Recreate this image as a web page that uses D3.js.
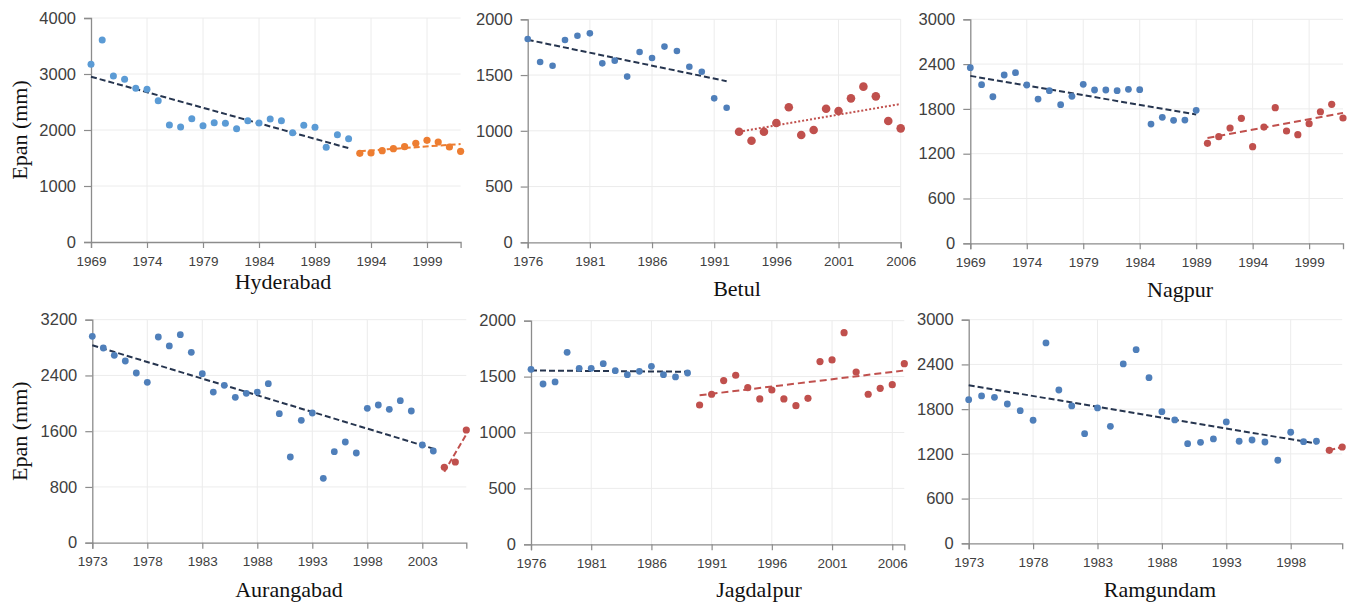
<!DOCTYPE html>
<html><head><meta charset="utf-8">
<script src="https://cdn.jsdelivr.net/npm/d3@7"></script>
<style>body{margin:0;background:#fff}svg{display:block}</style>
</head><body><svg id="c" width="1351" height="608"></svg>
<script>
// ---- data (Epan, mm) ----
const stations = ["Hyderabad","Betul","Nagpur","Aurangabad","Jagdalpur","Ramgundam"];

const hydYears1 = [1969,1992], hydYears2 = [1993,2002];
const hydPeriod1 = [3173,3607,2964,2905,2744,2726,2524,2089,2054,2202,2077,2131,2119,2024,2167,2125,2196,2167,1952,2083,2048,1690,1917,1845];
const hydPeriod2 = [1583,1589,1631,1667,1702,1762,1815,1786,1696,1620];

const betYears1 = [1976,1992], betYears2 = [1993,2006];
const betPeriod1 = [1823,1617,1584,1815,1853,1874,1605,1629,1486,1707,1653,1755,1716,1575,1530,1291,1207];
const betPeriod2 = [992,911,992,1070,1211,962,1007,1198,1178,1291,1396,1309,1088,1022];

const nagYears1 = [1969,1989], nagYears2 = [1990,2002];
const nagPeriod1 = [2352,2124,1963,2254,2285,2120,1932,2044,1856,1968,2129,2053,2053,2044,2062,2057,1597,1687,1647,1651,1781];
const nagPeriod2 = [1339,1428,1544,1674,1294,1557,1816,1504,1455,1602,1762,1861,1678];

const aurYears1 = [1973,2004], aurYears2 = [2005,2007];
const aurPeriod1 = [2962,2794,2689,2607,2435,2302,2952,2823,2985,2732,2425,2162,2259,2086,2144,2162,2282,1851,1230,1756,1861,924,1306,1445,1287,1928,1976,1914,2038,1890,1402,1316];
const aurPeriod2 = [1082,1158,1617];

const jagYears1 = [1976,1989], jagYears2 = [1990,2007];
const jagPeriod1 = [1565,1434,1452,1717,1574,1574,1616,1553,1517,1547,1592,1517,1497,1532];
const jagPeriod2 = [1246,1342,1464,1512,1401,1300,1380,1300,1240,1306,1634,1649,1893,1541,1342,1395,1428,1616];

const ramYears1 = [1973,2000], ramYears2 = [2001,2002];
const ramPeriod1 = [1927,1977,1959,1869,1780,1651,2688,2057,1843,1471,1816,1570,2406,2598,2222,1766,1655,1337,1355,1400,1628,1369,1386,1359,1114,1490,1364,1369];
const ramPeriod2 = [1248,1292];

const xTicks = {
  Hyderabad:[1969,1974,1979,1984,1989,1994,1999],
  Betul:[1976,1981,1986,1991,1996,2001,2006],
  Nagpur:[1969,1974,1979,1984,1989,1994,1999],
  Aurangabad:[1973,1978,1983,1988,1993,1998,2003],
  Jagdalpur:[1976,1981,1986,1991,1996,2001,2006],
  Ramgundam:[1973,1978,1983,1988,1993,1998]
};
const yTicks = {
  Hyderabad:[0,1000,2000,3000,4000],
  Betul:[0,500,1000,1500,2000],
  Nagpur:[0,600,1200,1800,2400,3000],
  Aurangabad:[0,800,1600,2400,3200],
  Jagdalpur:[0,500,1000,1500,2000],
  Ramgundam:[0,600,1200,1800,2400,3000]
};
const xDomains = {
  Hyderabad:[1969,2002], Betul:[1976,2006], Nagpur:[1969,2002],
  Aurangabad:[1973,2007], Jagdalpur:[1976,2007], Ramgundam:[1973,2002]
};

// ---- layout / style ----
const BLUE_L = "#5b9bd5", ORANGE = "#ed7d31", BLUE = "#4f7fba", RED = "#c0504d", NAVY = "#26354f";
const layout = {
  Hyderabad:{box:[91,460.6,18,242], title:[283,289], ylab:true,
    s:[{yrs:hydYears1,v:hydPeriod1,c:BLUE_L,r:3.5,tc:NAVY,dash:"6,3"},{yrs:hydYears2,v:hydPeriod2,c:ORANGE,r:3.6,tc:ORANGE,dash:"6,3"}]},
  Betul:{box:[527.7,900.7,19.3,242.3], title:[737,296],
    s:[{yrs:betYears1,v:betPeriod1,c:BLUE,r:3.3,tc:NAVY,dash:"6,3"},{yrs:betYears2,v:betPeriod2,c:RED,r:4.3,tc:RED,dash:"2,2"}]},
  Nagpur:{box:[970.3,1343,19.3,243.3], title:[1180,297],
    s:[{yrs:nagYears1,v:nagPeriod1,c:BLUE,r:3.4,tc:NAVY,dash:"6,3"},{yrs:nagYears2,v:nagPeriod2,c:RED,r:3.6,tc:RED,dash:"7,4"}]},
  Aurangabad:{box:[92.3,466.3,319.7,542.7], title:[289,597], ylab:true,
    s:[{yrs:aurYears1,v:aurPeriod1,c:BLUE,r:3.4,tc:NAVY,dash:"6,3"},{yrs:aurYears2,v:aurPeriod2,c:RED,r:3.6,tc:RED,dash:"6,3"}]},
  Jagdalpur:{box:[531,904.3,320.7,544.3], title:[759,597],
    s:[{yrs:jagYears1,v:jagPeriod1,c:BLUE,r:3.4,tc:NAVY,dash:"6,3"},{yrs:jagYears2,v:jagPeriod2,c:RED,r:3.6,tc:RED,dash:"7,4"}]},
  Ramgundam:{box:[968.7,1342.2,319.7,543.3], title:[1160,597],
    s:[{yrs:ramYears1,v:ramPeriod1,c:BLUE,r:3.4,tc:NAVY,dash:"6,3"},{yrs:ramYears2,v:ramPeriod2,c:RED,r:3.6,tc:RED,dash:"6,3"}]}
};

const svg = d3.select("#c");
svg.append("rect").attr("width",1351).attr("height",608).attr("fill","#fff");

function regress(xs, ys){
  const mx = d3.mean(xs), my = d3.mean(ys);
  let num=0, den=0;
  xs.forEach((x,i)=>{num+=(x-mx)*(ys[i]-my); den+=(x-mx)*(x-mx);});
  const b = num/den; return x => my + b*(x-mx);
}

stations.forEach(name=>{
  const L = layout[name];
  const [x0,x1,y0,y1] = L.box;
  const yt = yTicks[name];
  const x = d3.scaleLinear().domain(xDomains[name]).range([x0,x1]);
  const y = d3.scaleLinear().domain([0, d3.max(yt)]).range([y1,y0]);
  const g = svg.append("g");

  // grid
  g.append("g").selectAll("line").data(yt.slice(1)).join("line")
    .attr("x1",x0).attr("x2",x1).attr("y1",d=>y(d)).attr("y2",d=>y(d))
    .attr("stroke","#ececec").attr("stroke-width",1);
  g.append("g").selectAll("line").data(xTicks[name].slice(1)).join("line")
    .attr("x1",d=>x(d)).attr("x2",d=>x(d)).attr("y1",y0).attr("y2",y1)
    .attr("stroke","#ececec").attr("stroke-width",1);

  // axes
  const xa = g.append("g").attr("transform",`translate(0,${y1})`)
    .call(d3.axisBottom(x).tickValues(xTicks[name]).tickFormat(d3.format("d")).tickSizeOuter(0).tickSize(6).tickPadding(8));
  const ya = g.append("g").attr("transform",`translate(${x0},0)`)
    .call(d3.axisLeft(y).tickValues(yt).tickFormat(d3.format("d")).tickSizeOuter(0).tickSize(7).tickPadding(8));
  [xa,ya].forEach(a=>{
    a.select(".domain").attr("stroke","#8c8c8c").attr("stroke-width",1.3);
    a.selectAll(".tick line").attr("stroke","#8c8c8c").attr("stroke-width",1.2);
    a.selectAll("text").attr("fill","#404040").attr("font-family","'Liberation Sans', Arial, sans-serif");
  });
  xa.selectAll("text").attr("font-size","13.5px");
  ya.selectAll("text").attr("font-size","16.5px");

  // series
  L.s.forEach(s=>{
    const yrs = d3.range(s.yrs[0], s.yrs[1]+1);
    const pts = yrs.map((yr,i)=>({yr, v:s.v[i]}));
    const f = regress(yrs, s.v);
    g.append("line")
      .attr("x1",x(yrs[0])).attr("y1",y(f(yrs[0])))
      .attr("x2",x(yrs[yrs.length-1])).attr("y2",y(f(yrs[yrs.length-1])))
      .attr("stroke",s.tc).attr("stroke-width",2).attr("stroke-dasharray",s.dash);
    g.append("g").selectAll("circle").data(pts).join("circle")
      .attr("cx",d=>x(d.yr)).attr("cy",d=>y(d.v)).attr("r",s.r).attr("fill",s.c);
  });

  // title
  g.append("text").attr("x",L.title[0]).attr("y",L.title[1]).attr("text-anchor","middle")
    .attr("font-family","'Liberation Serif', 'Times New Roman', serif").attr("font-size","22px")
    .attr("fill","#111").text(name);

  if (L.ylab){
    g.append("text").attr("transform",`translate(27,${(y0+y1)/2}) rotate(-90)`)
      .attr("text-anchor","middle")
      .attr("font-family","'Liberation Serif', 'Times New Roman', serif").attr("font-size","22px")
      .attr("fill","#111").text("Epan (mm)");
  }
});
</script></body></html>
